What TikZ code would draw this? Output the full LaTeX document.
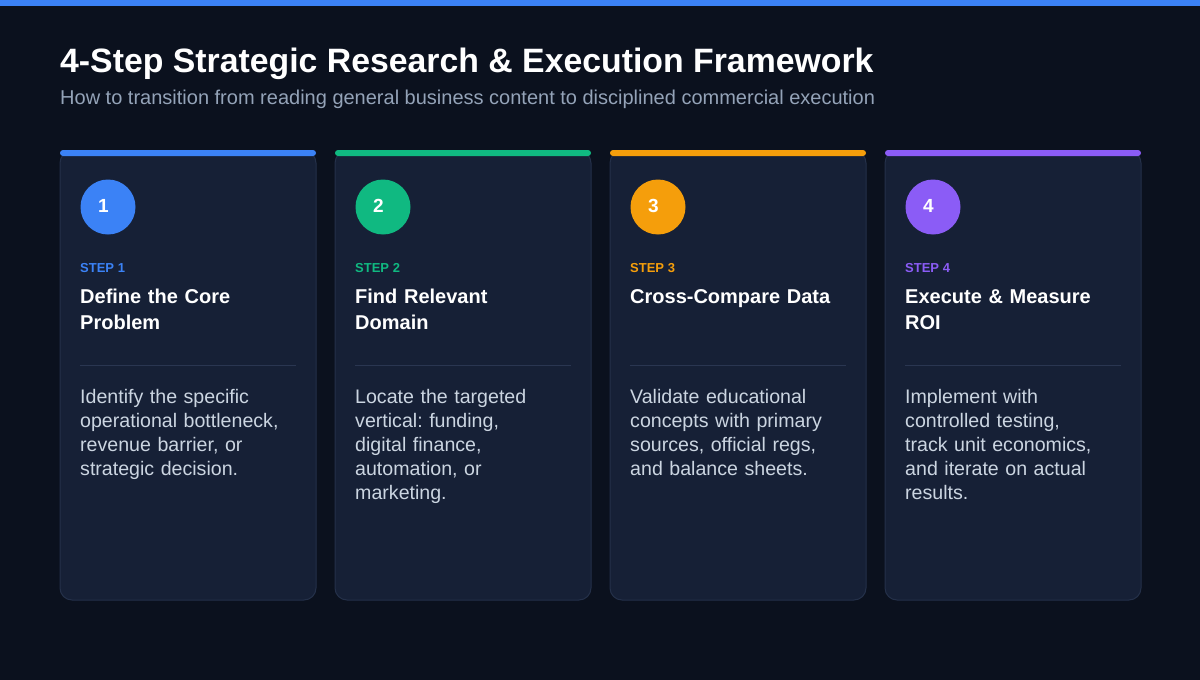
\documentclass[tikz,border=0pt]{standalone}
\usepackage{fontspec}
\setmainfont{Liberation Sans}
\frenchspacing
\definecolor{bg}{HTML}{0B111E}
\definecolor{cardfill}{HTML}{162036}
\definecolor{cardedge}{HTML}{243049}
\definecolor{divider}{HTML}{2A3651}
\definecolor{topbar}{HTML}{3B82F6}
\definecolor{subgray}{HTML}{94A3B8}
\definecolor{bodygray}{HTML}{CBD5E1}
\definecolor{cblue}{HTML}{3B82F6}
\definecolor{cgreen}{HTML}{10B981}
\definecolor{corange}{HTML}{F59E0B}
\definecolor{cpurple}{HTML}{8B5CF6}
\tikzset{
  card/.style={fill=cardfill, draw=cardedge, line width=1pt, rounded corners=12pt},
  numcirc/.style={circle, fill=#1, minimum size=55pt, inner sep=0pt},
  numtext/.style={inner sep=0pt, text=white, font=\bfseries\fontsize{19}{19}\selectfont},
  steplabel/.style={anchor=base west, inner sep=0pt, text=#1, font=\bfseries\fontsize{13}{13}\selectfont},
  cardtitle/.style={anchor=base west, inner sep=0pt, text=white, text width=220pt, align=left, font=\frenchspacing\bfseries\fontsize{20}{26}\selectfont},
  cardbody/.style={anchor=base west, inner sep=0pt, text=bodygray, text width=228pt, align=left, font=\frenchspacing\fontsize{19.6}{24}\selectfont},
}
\begin{document}
\begin{tikzpicture}[x=1pt,y=-1pt]
\fill[bg] (0,0) rectangle (1200,680);
\useasboundingbox (0,0) rectangle (1200,680);
\fill[topbar] (0,0) rectangle (1200,6);
\node[anchor=base west, inner sep=0pt, text=white, font=\bfseries\fontsize{33.8}{34}\selectfont] (title) at (60,72) {4-Step Strategic Research \& Execution Framework};
\node[anchor=base west, inner sep=0pt, text=subgray, font=\fontsize{20}{20}\selectfont] (subtitle) at (60,104) {How to transition from reading general business content to disciplined commercial execution};
\foreach \i/\c/\n/\tA/\bA in {
  0/cblue/1/{Define the Core\\Problem}/{Identify the specific\\operational bottleneck,\\revenue barrier, or\\strategic decision.},
  1/cgreen/2/{Find Relevant\\Domain}/{Locate the targeted\\vertical: funding,\\digital finance,\\automation, or\\marketing.},
  2/corange/3/{Cross-Compare Data}/{Validate educational\\concepts with primary\\sources, official regs,\\and balance sheets.},
  3/cpurple/4/{Execute \& Measure\\ROI}/{Implement with\\controlled testing,\\track unit economics,\\and iterate on actual\\results.}}{
  \pgfmathsetmacro{\x}{60+275*\i}
  \draw[card] (\x,151) rectangle ++(256,449);
  \fill[\c, rounded corners=3pt] (\x,150) rectangle ++(256,6);
  \node[numcirc=\c] (c\n) at (\x+48,207) {};
  \node[numtext] (n\n) at (\x+43.5,206) {\n};
  \node[steplabel=\c] (s\n) at (\x+20,272) {STEP \n};
  \node[cardtitle] (t\n) at (\x+20,303) {\tA};
  \draw[divider, line width=1pt] (\x+20,365.5) coordinate (dl\n) -- (\x+236,365.5) coordinate (dr\n);
  \node[cardbody] (b\n) at (\x+20,403) {\bA};
}
\end{tikzpicture}
\end{document}
